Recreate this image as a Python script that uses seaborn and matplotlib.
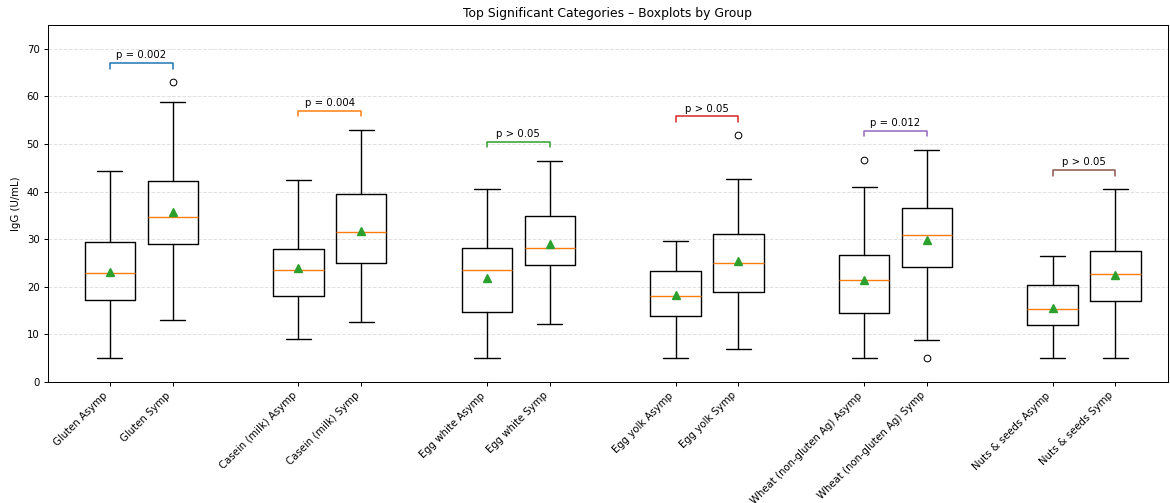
import matplotlib
matplotlib.use("Agg")
import matplotlib.pyplot as plt
import seaborn as sns

# Categories compared between asymptomatic and symptomatic groups
categories = ["Gluten", "Casein (milk)", "Egg white", "Egg yolk",
              "Wheat (non-gluten Ag)", "Nuts & seeds"]
groups = ["Asymp", "Symp"]
p_labels = ["p = 0.002", "p = 0.004", "p > 0.05", "p > 0.05", "p = 0.012", "p > 0.05"]

# Box statistics, one entry per box (category-major, Asymp then Symp)
whis_low = [5.0, 13.1, 9.0, 12.5, 5.0, 12.2, 5.0, 6.9, 5.0, 8.8, 5.0, 5.0]
q1 = [17.2, 29.0, 18.1, 24.9, 14.7, 24.5, 13.9, 18.9, 14.5, 24.1, 11.9, 17.0]
median = [22.9, 34.6, 23.5, 31.5, 23.5, 28.2, 18.0, 24.9, 21.5, 30.8, 15.3, 22.6]
q3 = [29.4, 42.2, 28.0, 39.4, 28.1, 34.9, 23.3, 31.0, 26.6, 36.5, 20.3, 27.6]
whis_high = [44.3, 58.9, 42.4, 53.0, 40.6, 46.5, 29.7, 42.6, 40.9, 48.8, 26.4, 40.5]
mean = [23.1, 35.8, 23.9, 31.7, 21.8, 28.9, 18.3, 25.4, 21.5, 29.8, 15.6, 22.4]
fliers = [[], [63.0], [], [], [], [], [], [51.8], [46.7], [5.0], [], []]

sns.set_theme(context="notebook", style="ticks", palette="tab10")
palette = sns.color_palette("tab10")
S = 0.73
plt.rcParams.update({
    "font.family": ["DejaVu Sans"],
    "font.size": 10 * S,
    "axes.linewidth": 1.0 * S,
    "xtick.major.width": 1.0 * S,
    "ytick.major.width": 1.0 * S,
    "xtick.major.size": 3.5 * S,
    "ytick.major.size": 3.5 * S,
    "xtick.labelsize": 10 * S,
    "ytick.labelsize": 10 * S,
    "axes.edgecolor": "black",
    "text.color": "black",
    "xtick.color": "black",
    "ytick.color": "black",
    "axes.labelcolor": "black",
})

fig = plt.figure(figsize=(11.7, 5.03), dpi=100)
ax = fig.add_axes([0.041, 0.2406, 0.957, 0.7097])

positions, labels, stats = [], [], []
for i, cat in enumerate(categories):
    for j, grp in enumerate(groups):
        k = 2 * i + j
        positions.append(3 * i + 1 + j)
        labels.append(f"{cat} {grp}")
        stats.append(dict(whislo=whis_low[k], q1=q1[k], med=median[k], q3=q3[k],
                          whishi=whis_high[k], mean=mean[k], fliers=fliers[k]))

lw = 1.0
ax.bxp(stats, positions=positions, widths=0.8, showmeans=True,
       boxprops=dict(color="black", linewidth=lw),
       whiskerprops=dict(color="black", linewidth=lw),
       capprops=dict(color="black", linewidth=lw),
       medianprops=dict(color=palette[1], linewidth=lw),
       meanprops=dict(marker="^", markerfacecolor=palette[2], markeredgecolor=palette[2],
                      markersize=6 * S * 1.2),
       flierprops=dict(marker="o", markerfacecolor="none", markeredgecolor="black",
                       markersize=6 * S * 1.1, markeredgewidth=1.0 * S))

# Significance brackets above each pair
h = 1.2
for i in range(len(categories)):
    a, b = 2 * i, 2 * i + 1
    top_val = max([whis_high[a], whis_high[b]] + fliers[a] + fliers[b])
    y = top_val + 4
    x1, x2 = positions[a], positions[b]
    ax.plot([x1, x1, x2, x2], [y - h, y, y, y - h], color=palette[i], lw=1.1)
    ax.text((x1 + x2) / 2, y + 0.6, p_labels[i], ha="center", va="bottom",
            fontsize=10 * S)

ax.set_xticks(positions)
ax.set_xticklabels(labels, rotation=45, ha="right", rotation_mode="default")
ax.set_xlim(0.016, 17.83)
ax.set_ylim(0, 75)
ax.set_yticks(range(0, 71, 10))
ax.set_ylabel("IgG (U/mL)", fontsize=10 * S)
ax.set_title("Top Significant Categories \u2013 Boxplots by Group", fontsize=12 * S * 1.02)
ax.yaxis.grid(True, linestyle="--", color="#cccccc", alpha=0.6, linewidth=0.7)
ax.set_axisbelow(True)
for side in ["top", "right", "left", "bottom"]:
    ax.spines[side].set_visible(True)

fig.savefig("out.png", dpi=100)
